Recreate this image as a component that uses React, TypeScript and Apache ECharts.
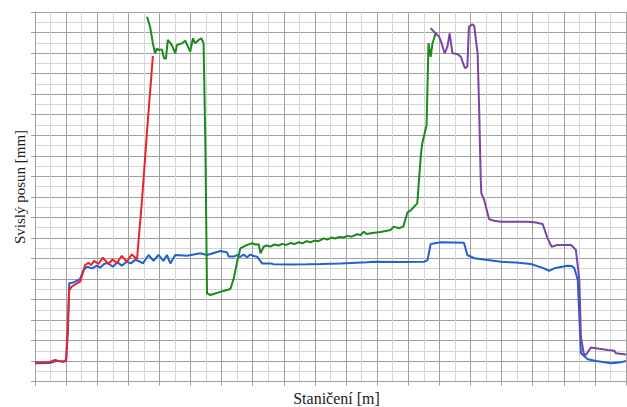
import React, { useEffect, useRef } from "react";
import * as echarts from "echarts";

// Station (x) and vertical displacement (y) for each measured curve
const blueX = [0, 4.8, 7.0, 9.1, 10.0, 10.6, 11.0, 12.1, 13.2, 14.5, 15.6, 16.7, 18.3, 19.9, 20.9, 22.2, 23.3, 25.0, 26.5, 27.9, 29.5, 30.8, 32.2, 33.3, 34.7, 36.5, 38.1, 39.7, 41.3, 42.4, 43.5, 45.1, 48.9, 53.1, 55.3, 59.6, 61.7, 62.3, 63.9, 65.0, 66.0, 67.0, 68.2, 69.2, 70.3, 71.4, 73.0, 75.7, 76.7, 82.1, 87.5, 91.8, 98.2, 106.8, 109.0, 117.5, 125.1, 126.2, 127.2, 130.4, 134.3, 137.9, 139.0, 141.2, 149.8, 154.6, 159.4, 163.2, 165.3, 166.9, 171.2, 172.6, 173.4, 174.5, 174.9, 175.5, 177.7, 180.4, 185.2, 187.8, 190.0];
const blueY = [0.90, 0.91, 1.02, 0.97, 1.01, 2.52, 4.79, 4.82, 4.90, 5.00, 5.44, 5.60, 5.52, 5.65, 5.55, 5.73, 5.79, 5.60, 5.81, 5.65, 5.84, 5.76, 5.93, 5.88, 5.76, 6.17, 5.89, 6.17, 5.88, 6.17, 5.76, 6.17, 6.13, 6.25, 6.17, 6.36, 6.30, 6.09, 6.09, 6.17, 6.07, 6.19, 6.06, 6.19, 6.12, 6.09, 5.76, 5.76, 5.72, 5.71, 5.72, 5.73, 5.76, 5.81, 5.84, 5.83, 5.84, 5.92, 6.70, 6.79, 6.78, 6.77, 6.17, 6.01, 5.84, 5.80, 5.73, 5.54, 5.40, 5.52, 5.65, 5.63, 5.52, 4.95, 3.49, 1.38, 1.09, 1.01, 0.90, 0.93, 1.01];

const redX = [0, 4.8, 6.4, 7.4, 9.1, 10.0, 10.6, 11.0, 11.8, 13.2, 14.5, 15.5, 16.1, 17.2, 18.0, 19.0, 20.4, 21.8, 23.6, 25.0, 26.3, 27.9, 29.5, 31.1, 32.8, 34.4, 36.1, 37.9];
const redY = [0.93, 0.96, 1.06, 1.01, 0.98, 1.06, 3.00, 4.46, 4.63, 4.76, 4.87, 5.34, 5.68, 5.79, 5.68, 5.88, 5.73, 6.04, 5.73, 5.96, 5.76, 6.13, 5.84, 6.20, 5.96, 8.85, 12.35, 15.86];

const greenX = [36.0, 37.0, 37.9, 38.6, 39.2, 39.7, 40.8, 41.5, 42.1, 42.7, 44.0, 45.1, 45.6, 47.2, 48.3, 49.9, 50.8, 51.5, 52.6, 53.5, 54.2, 54.8, 55.3, 56.4, 60.6, 62.8, 63.9, 65.0, 66.0, 68.2, 69.8, 70.8, 71.9, 72.5, 73.5, 74.4, 75.7, 77.0, 78.3, 79.5, 80.8, 82.1, 83.4, 84.7, 86.0, 87.3, 88.6, 89.9, 91.1, 92.9, 94.0, 95.3, 96.6, 97.9, 99.2, 100.5, 101.8, 103.6, 104.7, 105.7, 106.6, 108.5, 111.1, 114.3, 115.4, 117.0, 118.4, 119.7, 120.8, 122.9, 124.0, 124.5, 125.9, 126.5, 127.2, 127.8, 128.8, 129.4];
const greenY = [17.77, 17.28, 16.47, 15.99, 16.23, 16.15, 16.18, 15.74, 15.74, 16.64, 16.39, 15.99, 16.39, 16.47, 16.60, 16.07, 16.72, 16.47, 16.64, 16.72, 16.47, 11.28, 4.30, 4.22, 4.42, 4.51, 5.03, 5.84, 6.49, 6.66, 6.74, 6.68, 6.69, 6.25, 6.57, 6.63, 6.58, 6.68, 6.63, 6.71, 6.66, 6.75, 6.70, 6.79, 6.74, 6.84, 6.79, 6.87, 6.84, 6.98, 6.92, 7.02, 6.97, 7.05, 7.02, 7.10, 7.06, 7.18, 7.14, 7.30, 7.19, 7.24, 7.29, 7.39, 7.55, 7.47, 7.55, 8.23, 8.35, 8.68, 10.95, 11.61, 12.50, 16.48, 15.82, 16.48, 16.96, 16.88];

const purpleX = [127.2, 128.8, 129.9, 130.7, 131.7, 132.6, 133.3, 134.2, 135.8, 136.9, 138.2, 139.0, 139.5, 140.6, 141.2, 142.3, 142.8, 143.3, 143.5, 144.4, 146.0, 147.6, 149.8, 158.4, 161.0, 163.2, 164.8, 166.1, 168.0, 172.3, 173.9, 175.0, 175.5, 176.4, 177.1, 178.7, 184.1, 186.2, 186.8, 190.0];
const purpleY = [17.21, 16.96, 16.80, 16.48, 15.99, 16.31, 16.96, 15.99, 15.95, 15.82, 15.26, 15.34, 17.28, 17.40, 17.32, 15.99, 13.23, 9.82, 9.17, 8.85, 7.91, 7.84, 7.79, 7.79, 7.75, 7.68, 6.98, 6.57, 6.66, 6.66, 6.41, 4.95, 2.19, 1.38, 1.30, 1.66, 1.54, 1.51, 1.38, 1.33];

const xAxisName = "Staničení [m]";
const yAxisName = "Svislý posun [mm]";

const zip = (xs: number[], ys: number[]) => xs.map((x, i) => [x, ys[i]]);

export default function App() {
  const ref = useRef<HTMLDivElement>(null);
  useEffect(() => {
    if (!ref.current) return;
    const chart = echarts.init(ref.current, undefined, { renderer: "svg" });
    const axisCommon = {
      type: "value" as const,
      axisLabel: { show: false },
      axisLine: { show: true, lineStyle: { color: "#a0a0a0", width: 1 } },
      axisTick: { show: true, length: 4, lineStyle: { color: "#a0a0a0" } },
      splitLine: { show: true, lineStyle: { color: "#a0a0a0", width: 1 } },
      minorTick: { show: false, splitNumber: 2 },
      minorSplitLine: { show: true, lineStyle: { color: "#d6d6d6", width: 1 } },
    };
    const line = (name: string, xs: number[], ys: number[], color: string) => ({
      name,
      type: "line" as const,
      data: zip(xs, ys),
      showSymbol: false,
      symbol: "none",
      lineStyle: { color, width: 2 },
      itemStyle: { color },
      z: 3,
    });
    chart.setOption({
      animation: false,
      backgroundColor: "#ffffff",
      grid: { left: 35, right: 1, top: 12, bottom: 25.3, containLabel: false },
      xAxis: { ...axisCommon, min: 0, max: 190, interval: 10 },
      yAxis: { ...axisCommon, min: 0, max: 18, interval: 1 },
      series: [
        line("A", blueX, blueY, "#1f63d3"),
        line("B", redX, redY, "#e8232b"),
        line("C", greenX, greenY, "#1b8a1b"),
        line("D", purpleX, purpleY, "#7a44a6"),
      ],
      graphic: [
        {
          type: "text",
          x: 336.5,
          y: 398,
          style: {
            text: xAxisName,
            font: '16px "Liberation Serif", serif',
            fill: "#1a1a1a",
            align: "center",
            verticalAlign: "middle",
          },
        },
        {
          type: "text",
          x: 20,
          y: 187,
          rotation: Math.PI / 2,
          style: {
            text: yAxisName,
            font: '15px "Liberation Serif", serif',
            fill: "#1a1a1a",
            align: "center",
            verticalAlign: "middle",
          },
        },
      ],
    });
    return () => chart.dispose();
  }, []);
  return (
    <div
      ref={ref}
      style={{ position: "fixed", left: 0, top: 0, width: 627, height: 407 }}
    />
  );
}
